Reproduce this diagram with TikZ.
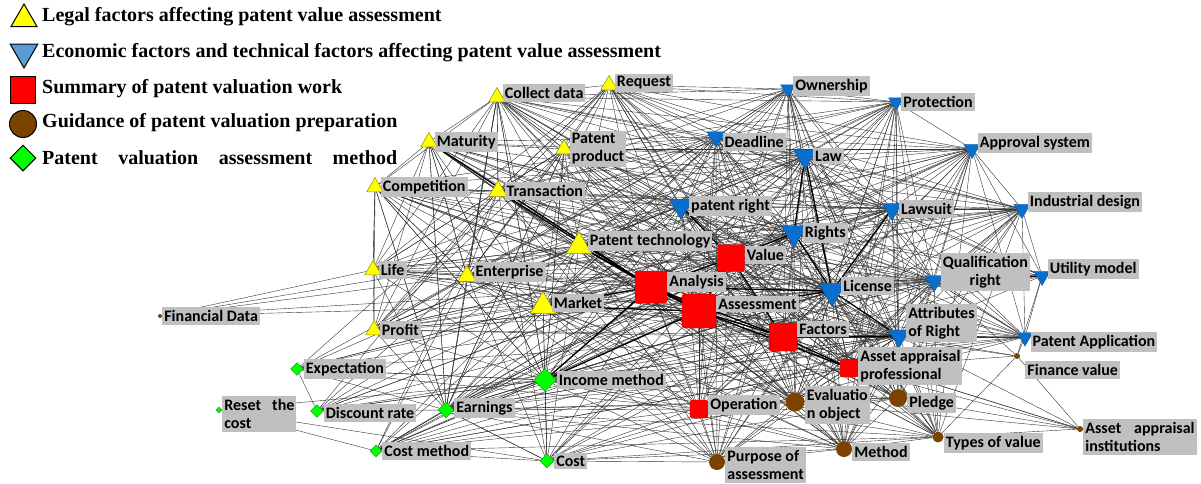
\documentclass[tikz,border=0pt]{standalone}
\usepackage{fontspec}
\setmainfont{Liberation Serif}
\newfontfamily\labelfamily{Carlito}
\usetikzlibrary{shapes.geometric, backgrounds}

\definecolor{legalyellow}{HTML}{FFFF00}
\definecolor{legaledge}{HTML}{8C8C00}
\definecolor{econblue}{HTML}{0A6FCC}
\definecolor{legendblue}{HTML}{5B9BD5}
\definecolor{workred}{HTML}{FF0000}
\definecolor{workedge}{HTML}{B00000}
\definecolor{guidebrown}{HTML}{7B4200}
\definecolor{methgreen}{HTML}{00FF00}
\definecolor{methedge}{HTML}{009000}
\definecolor{labelgray}{HTML}{C0C0C0}

\tikzset{
  legalnode/.style={regular polygon, regular polygon sides=3, fill=legalyellow, draw=legaledge, line width=0.5pt, inner sep=0pt, minimum size=#1},
  econnode/.style={regular polygon, regular polygon sides=3, shape border rotate=180, fill=econblue, draw=econblue!70!black, line width=0.4pt, inner sep=0pt, minimum size=#1},
  worknode/.style={rectangle, rounded corners=2.5pt, fill=workred, draw=workedge, line width=0.4pt, inner sep=0pt, minimum size=#1},
  guidenode/.style={circle, fill=guidebrown, inner sep=0pt, minimum size=#1},
  methnode/.style={diamond, fill=methgreen, draw=methedge, line width=0.3pt, inner sep=0pt, minimum size=#1},
  lbl/.style={fill=labelgray, inner xsep=2pt, inner ysep=3pt, align=left, font=\labelfamily\bfseries\fontsize{16}{18}\selectfont},
  legtext/.style={anchor=west, inner sep=0pt, font=\bfseries\fontsize{20}{22}\selectfont},
  conn/.style={draw=black!80, line width=0.4pt},
  strongconn/.style={draw=black, line width=1.3pt}
}

\begin{document}
\begin{tikzpicture}[x=1pt, y=-1pt]
  \useasboundingbox (0,0) rectangle (1201,483);

  % legend
  \node[legalnode=30, draw=black, line width=1pt] (leg1) at (24,19) {};
  \node[legtext] (leg1-t) at (42,17) {Legal factors affecting patent value assessment};
  \node[econnode=32, fill=legendblue, draw=black, line width=1pt] (leg2) at (24,52) {};
  \node[legtext] (leg2-t) at (42,53) {Economic factors and technical factors affecting patent value assessment};
  \node[worknode=25, minimum height=27, rounded corners=0pt, draw=black, line width=1pt] (leg3) at (23,90) {};
  \node[legtext] (leg3-t) at (42,89) {Summary of patent valuation work};
  \node[guidenode=27, draw=black, line width=1pt] (leg4) at (23,124) {};
  \node[legtext] (leg4-t) at (42,123) {Guidance of patent valuation preparation};
  \node[methnode=26, draw=black, line width=1pt] (leg5) at (23,158) {};
  \node[legtext] (leg5-t) at (42,158) {\hbox to 355pt{Patent\hfil valuation\hfil assessment\hfil method}};

  % legal factors
  \node[legalnode=19, label={[lbl, yshift=4pt]right:Collect data}] (collect) at (497,97) {};
  \node[legalnode=19, label={[lbl, yshift=2pt]right:Request}] (request) at (609,85) {};
  \node[legalnode=19, label={[lbl]right:Maturity}] (maturity) at (429,142) {};
  \node[legalnode=19, label={[lbl]right:Patent\\product}] (pproduct) at (564,149) {};
  \node[legalnode=19, label={[lbl]right:Competition}] (competition) at (375,187) {};
  \node[legalnode=21, label={[lbl]right:Transaction}] (transaction) at (498,191) {};
  \node[legalnode=29, label={[lbl, yshift=5pt]right:Patent technology}] (ptech) at (579,246) {};
  \node[legalnode=19, label={[lbl]right:Life}] (life) at (373,270) {};
  \node[legalnode=21, label={[lbl, yshift=4pt]right:Enterprise}] (enterprise) at (467,276) {};
  \node[legalnode=29, label={[lbl, yshift=3pt]right:Market}] (market) at (543,306) {};
  \node[legalnode=19, label={[lbl]right:Profit}] (profit) at (374,330) {};

  % economic and technical factors
  \node[econnode=17, label={[lbl, yshift=3pt]right:Ownership}] (ownership) at (788,89) {};
  \node[econnode=17, label={[lbl]right:Protection}] (protection) at (896,102) {};
  \node[econnode=21, label={[lbl, yshift=-5pt]right:Deadline}] (deadline) at (716,137) {};
  \node[econnode=27, label={[lbl]right:Law}] (law) at (805,156) {};
  \node[econnode=19, label={[lbl, yshift=6pt]right:Approval system}] (approval) at (972,149) {};
  \node[econnode=27, label={[lbl]right:patent right}] (pright) at (681,206) {};
  \node[econnode=23, label={[lbl]right:Lawsuit}] (lawsuit) at (892,209) {};
  \node[econnode=19, label={[lbl, yshift=7pt]right:Industrial design}] (industrial) at (1022,209) {};
  \node[econnode=29, label={[lbl]right:Rights}] (rights) at (794,233) {};
  \node[econnode=31, label={[lbl, yshift=5pt]right:License}] (license) at (832,291) {};
  \node[econnode=22, label={[lbl, align=center, yshift=9pt]right:Qualification\\right}] (qualif) at (934,281) {};
  \node[econnode=19, label={[lbl, yshift=7pt]right:Utility model}] (utility) at (1042,276) {};
  \node[econnode=24, label={[lbl, yshift=13pt]right:Attributes\\of Right}] (attrib) at (899,336) {};
  \node[econnode=18, label={[lbl, yshift=-5pt]right:Patent Application}] (papp) at (1025,337) {};

  % summary of valuation work
  \node[worknode=27, label={[lbl, yshift=3pt]right:Value}] (value) at (731,258) {};
  \node[worknode=32, label={[lbl, yshift=5pt]right:Analysis}] (analysis) at (651,287) {};
  \node[worknode=34, label={[lbl, yshift=7pt]right:Assessment}] (assessment) at (699,311) {};
  \node[worknode=28, label={[lbl, yshift=8pt]right:Factors}] (factors) at (783,337) {};
  \node[worknode=18, label={[lbl, yshift=2pt]right:Asset appraisal\\professional}] (appraiser) at (849,368) {};
  \node[worknode=18, label={[lbl, yshift=4pt]right:Operation}] (operation) at (699,409) {};

  % guidance of valuation preparation
  \node[guidenode=19, label={[lbl, yshift=-3pt]right:Evaluatio\\n object}] (evalobj) at (795,402) {};
  \node[guidenode=18, label={[lbl, yshift=-5pt]right:Pledge}] (pledge) at (898,398) {};
  \node[guidenode=16, label={[lbl, yshift=-3pt]right:Method}] (method) at (844,449) {};
  \node[guidenode=11, label={[lbl, yshift=-6pt]right:Types of value}] (types) at (938,437) {};
  \node[guidenode=16, label={[lbl, yshift=-3pt]right:Purpose of\\assessment}] (purpose) at (717,462) {};
  \node[guidenode=6, label={[lbl, anchor=north west, xshift=6pt, yshift=-3pt]south east:Finance value}] (finval) at (1017,356) {};
  \node[guidenode=6, label={[lbl, yshift=-8pt]right:Asset\hspace{0.8em}appraisal\\institutions}] (institutions) at (1080,429) {};
  \node[guidenode=4, label={[lbl]right:Financial Data}] (findata) at (160,316) {};

  % assessment methods
  \node[methnode=13, label={[lbl]right:Expectation}] (expectation) at (297,369) {};
  \node[methnode=6, label={[lbl, yshift=-4pt]right:Reset\hspace{0.7em}the\\cost}] (resetcost) at (219,410) {};
  \node[methnode=13, label={[lbl, yshift=-2pt]right:Discount rate}] (discount) at (317,411) {};
  \node[methnode=16, label={[lbl, yshift=2pt]right:Earnings}] (earnings) at (446,410) {};
  \node[methnode=23, label={[lbl]right:Income method}] (income) at (545,380) {};
  \node[methnode=12, label={[lbl]right:Cost method}] (costmethod) at (376,451) {};
  \node[methnode=14, label={[lbl]right:Cost}] (cost) at (547,461) {};

  \begin{pgfonlayer}{background}
    % hubs of the work summary reach almost every node
    \foreach \s in {analysis,assessment,value,factors}
      \foreach \t in {collect,request,maturity,pproduct,competition,transaction,ptech,life,enterprise,market,profit,ownership,protection,deadline,law,approval,pright,lawsuit,industrial,rights,license,qualif,utility,attrib,papp,appraiser,operation,evalobj,pledge,method,types,purpose,expectation,discount,earnings,income,costmethod,cost}
        \draw[conn] (\s) -- (\t);
    % legal and economic hubs
    \foreach \s in {law,rights,license,pright,lawsuit,attrib,deadline,qualif}
      \foreach \t in {collect,request,maturity,pproduct,competition,transaction,ptech,life,enterprise,market,profit,ownership,protection,approval,industrial,utility,papp,appraiser,operation,evalobj,pledge,method,types,purpose,income,earnings}
        \draw[conn] (\s) -- (\t);
    \foreach \a/\b in {law/rights,law/pright,law/lawsuit,law/attrib,law/deadline,law/qualif,rights/pright,rights/lawsuit,rights/attrib,rights/deadline,rights/qualif,license/pright,license/qualif,pright/lawsuit,pright/deadline,pright/attrib,lawsuit/attrib,lawsuit/qualif,deadline/lawsuit,attrib/qualif}
      \draw[conn] (\a) -- (\b);
    \foreach \s in {ownership,protection,approval,industrial}
      \foreach \t in {collect,request,pproduct,transaction,ptech,market,enterprise,appraiser,evalobj,pledge,types,method}
        \draw[conn] (\s) -- (\t);
    \foreach \s in {ptech,market,transaction,enterprise,income,earnings}
      \foreach \t in {collect,maturity,pproduct,competition,life,profit,expectation,discount,costmethod,cost,purpose,operation,evalobj,method}
        \draw[conn] (\s) -- (\t);
    \foreach \s in {collect,request,maturity,competition,pproduct}
      \foreach \t in {life,enterprise,profit,transaction,appraiser,evalobj,income,earnings}
        \draw[conn] (\s) -- (\t);
    \foreach \s in {income,earnings,cost,costmethod}
      \foreach \t in {pledge,types,appraiser,attrib,license,rights,papp}
        \draw[conn] (\s) -- (\t);
    % outlying nodes
    \foreach \a/\b in {findata/enterprise,findata/ptech,findata/analysis,findata/market,findata/life,
        resetcost/costmethod,resetcost/cost,resetcost/income,
        expectation/discount,expectation/income,expectation/operation,discount/income,
        costmethod/cost,costmethod/earnings,costmethod/income,costmethod/operation,
        cost/income,cost/earnings,cost/purpose,cost/method,
        life/competition,life/profit,competition/transaction,competition/maturity,maturity/pproduct,
        collect/request,collect/maturity,collect/competition,collect/pproduct,request/pproduct,request/transaction,maturity/transaction,
        institutions/appraiser,institutions/pledge,institutions/types,institutions/finval,institutions/factors,institutions/assessment,institutions/evalobj,institutions/attrib,
        finval/types,finval/papp,finval/utility,finval/assessment,finval/appraiser,finval/attrib,finval/qualif,
        ownership/protection,ownership/deadline,protection/approval,approval/industrial,industrial/utility,utility/papp,attrib/papp,qualif/papp,approval/utility,approval/papp,industrial/papp,
        evalobj/pledge,evalobj/method,evalobj/purpose,evalobj/types,pledge/types,pledge/method,method/types,method/purpose,
        operation/evalobj,operation/purpose,operation/method,appraiser/pledge,appraiser/evalobj,appraiser/types,appraiser/method,
        income/earnings,income/market,earnings/market,earnings/enterprise,
        ptech/market,ptech/transaction,ptech/enterprise,transaction/enterprise,market/enterprise}
      \draw[conn] (\a) -- (\b);
    % strongest ties
    \foreach \a/\b in {maturity/analysis,transaction/analysis,ptech/analysis,ptech/assessment,analysis/assessment,analysis/value,assessment/value,
        market/assessment,market/analysis,assessment/factors,analysis/factors,assessment/license,analysis/license,value/rights,rights/license,
        law/rights,license/attrib,factors/attrib,factors/appraiser,assessment/appraiser,qualif/utility,value/factors,pright/value,law/license,
        lawsuit/license,assessment/income,analysis/income}
      \draw[strongconn] (\a) -- (\b);
  \end{pgfonlayer}
\end{tikzpicture}
\end{document}
